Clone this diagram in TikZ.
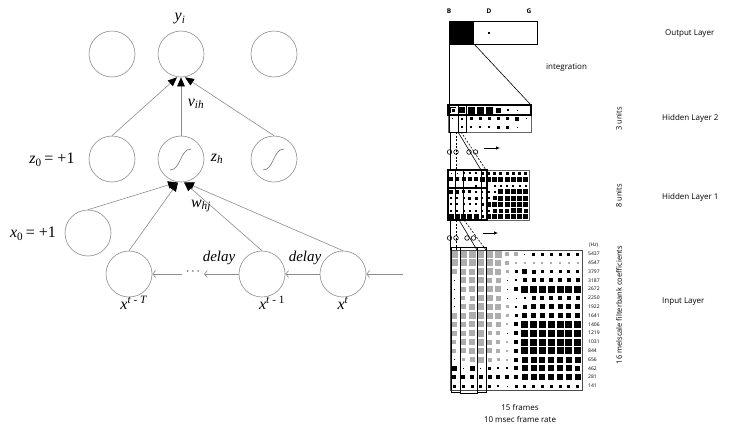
\documentclass[tikz,border=0pt]{standalone}
\usepackage{fontspec}
\setmainfont{Liberation Serif}
\newfontfamily\lblfont{Open Sans}
\usetikzlibrary{arrows.meta}
\tikzset{
  neuron/.style={circle,draw=black!45,line width=0.6pt,minimum size=46pt,inner sep=0pt},
  wire/.style={draw=black!45,line width=0.6pt},
  conv/.style={wire,-{Triangle[length=9pt,width=7.5pt,color=black]}},
  delayarr/.style={wire,-{Straight Barb[length=3pt,width=7pt]}},
  mathlbl/.style={font=\fontsize{16}{18}\selectfont,inner sep=0pt},
  rlabel/.style={font=\lblfont\fontsize{8}{9}\selectfont,inner sep=0pt,anchor=west},
  hzlabel/.style={font=\lblfont\fontsize{5}{6}\selectfont,inner sep=0pt,anchor=west},
  units/.style={font=\lblfont\fontsize{7.5}{9}\selectfont,inner sep=0pt,rotate=90},
  winbox/.style={draw=black,line width=0.9pt},
  conn/.style={draw=black,line width=0.6pt},
  connd/.style={draw=black,line width=0.6pt,dash pattern=on 2pt off 1.5pt},
}
\newcommand{\sigmoidin}[1]{\draw[black!55,line width=0.6pt] ([shift={(-11pt,-11pt)}]#1.center) .. controls ([shift={(0pt,-11pt)}]#1.center) and ([shift={(-1pt,10pt)}]#1.center) .. ([shift={(10pt,10pt)}]#1.center);}
\newcommand{\cellsq}[3]{%
  \ifnum#3>10
    \pgfmathsetmacro{\hs}{(#3-10)/2}%
    \fill[black!32] (#1-\hs,#2-\hs) rectangle (#1+\hs,#2+\hs);%
  \else\ifnum#3>0
    \pgfmathsetmacro{\hs}{#3/2}%
    \fill[black] (#1-\hs,#2-\hs) rectangle (#1+\hs,#2+\hs);%
  \fi\fi}
\begin{document}
\begin{tikzpicture}[x=1pt,y=-1pt]
\useasboundingbox (0,0) rectangle (735,429);
\fill[white] (0,0) rectangle (735,429);

% ---------------- left network ----------------
\node[neuron] (o1) at (112,54) {};
\node[neuron] (o2) at (181,54) {};
\node[neuron] (o3) at (274,54) {};
\node[neuron] (h0) at (112,159) {};
\node[neuron] (h1) at (181,159) {};
\node[neuron] (h2) at (274,159) {};
\node[neuron] (x0) at (88,233) {};
\node[neuron] (xT) at (129,274) {};
\node[neuron] (x1) at (262,274) {};
\node[neuron] (xt) at (343,274) {};
\sigmoidin{h1}
\sigmoidin{h2}

\draw[conv] (h0.north) -- ([xshift=-4pt]o2.south);
\draw[conv] (h2.north) -- ([xshift=4pt]o2.south);
\draw[conv] (h1.north) -- (o2.south);

\draw[conv] (x0.north) -- ([xshift=-4pt]h1.south);
\draw[conv] (xT.north) -- ([xshift=-3pt]h1.south);
\draw[conv] (xt.north) -- ([xshift=4pt]h1.south);
\draw[conv] (x1.north) -- ([xshift=3pt]h1.south);

\coordinate (inp) at (403,274);
\coordinate (dotsR) at (204,274);
\coordinate (dotsL) at (182,274);
\draw[delayarr] (inp) -- (xt.east);
\draw[delayarr] (xt.west) -- (x1.east);
\draw[delayarr] (x1.west) -- (dotsR);
\draw[delayarr] (dotsL) -- (xT.east);
\node[font=\fontsize{12}{12}\selectfont,inner sep=0pt] (dots) at (193,272) {$\cdots$};

\node[mathlbl] (lyi) at (180,19) {\textit{y}\textsubscript{\textit{i}}};
\node[mathlbl] (lvih) at (196,104) {\textit{v}\textsubscript{\textit{ih}}};
\node[mathlbl] (lzh) at (217,159) {\textit{z}\textsubscript{\textit{h}}};
\node[mathlbl] (lz0) at (52,160) {\textit{z}\textsubscript{0}\,=\ +1};
\node[mathlbl] (lx0) at (33,234) {\textit{x}\textsubscript{0}\,=\ +1};
\node[mathlbl] (lwhj) at (201,206) {\textit{w}\textsubscript{\textit{hj}}};
\node[mathlbl,font=\fontsize{15}{17}\selectfont] (ld1) at (219,258) {\textit{delay}};
\node[mathlbl,font=\fontsize{15}{17}\selectfont] (ld2) at (305,258) {\textit{delay}};
\node[mathlbl] (lxT) at (134,303) {\textit{x}\textsuperscript{\textit{t} - \textit{T}}};
\node[mathlbl] (lx1) at (272,303) {\textit{x}\textsuperscript{\textit{t} - 1}};
\node[mathlbl] (lxt) at (343,303) {\textit{x}\textsuperscript{\textit{t}}};

% ---------------- right: TDNN figure ----------------
\node[font=\lblfont\bfseries\fontsize{6.5}{7}\selectfont,inner sep=0pt] (lB) at (449,11) {B};
\node[font=\lblfont\bfseries\fontsize{6.5}{7}\selectfont,inner sep=0pt] (lD) at (489,11) {D};
\node[font=\lblfont\bfseries\fontsize{6.5}{7}\selectfont,inner sep=0pt] (lG) at (529,11) {G};

% output layer
\draw[line width=0.9pt] (449,21) rectangle (537,44);
\fill[black] (449,21) rectangle (474,44);
\fill[black] (488.4,32.4) rectangle (489.6,33.6);
\draw[conn] (449,44) -- (449,105);
\draw[conn] (474,44) -- (531,105);

% hidden layer 2 (9 x 3)
\draw[black!60,line width=0.7pt] (448,105) rectangle (531,132);
\foreach \row [count=\r] in {{6,6,7,7,7,5,2,1,0},{1,2,3,3,3,3,3,4,1},{0,2,2,2,2,3,3,1,0}}{
  \foreach \v [count=\c] in \row {
    \pgfmathsetmacro{\cx}{448+9.22*(\c-0.5)}
    \pgfmathsetmacro{\cy}{110+8.6*(\r-1)}
    \cellsq{\cx}{\cy}{\v}
  }
}
\draw[line width=1.2pt] (448,105) rectangle (531,115);
\draw[white,line width=0.8pt] (451.6,108.6) rectangle (455.6,112.6);
\draw[winbox] (449,105) rectangle (458,132);
\draw[winbox] (458,105) rectangle (466,132);

% connections hidden2 -> hidden1
\draw[conn] (450,132) -- (450,170);
\draw[connd] (456,132) -- (456,170);
\draw[conn] (458,132) -- (481,170);
\draw[connd] (461,132) -- (486,170);
\foreach \lx in {449.5,456,469,475.5}{\draw[black,line width=0.6pt] (\lx,152) circle (2.3);}
\draw[-{Latex[length=4pt,width=3.5pt]},line width=0.7pt] (484,148) -- (500,148);

% hidden layer 1 (13 x 8)
\draw[black!60,line width=0.7pt] (448,170) rectangle (529,220);
\foreach \row [count=\r] in {
 {1,1,2,2,2,3,3,3,3,3,3,3,3},
 {4,4,4,4,4,5,5,5,5,5,5,5,5},
 {0,0,0,0,2,0,0,2,2,2,2,2,2},
 {4,4,3,3,2,2,2,2,5,5,5,5,5},
 {2,2,2,3,3,2,2,4,5,5,5,5,5},
 {2,2,2,2,2,3,5,5,5,5,5,5,5},
 {2,2,2,2,2,2,2,4,4,4,5,5,4},
 {5,5,5,5,5,3,5,5,5,5,5,5,5}}{
  \foreach \v [count=\c] in \row {
    \pgfmathsetmacro{\cx}{448+6.23*(\c-0.5)}
    \pgfmathsetmacro{\cy}{170+6.25*(\r-0.5)}
    \cellsq{\cx}{\cy}{\v}
  }
}
\draw[line width=1.3pt] (448,170) rectangle (487,220);
\draw[line width=0.7pt] (455,170) -- (455,220);
\draw[line width=0.7pt] (463,170) -- (463,220);
\draw[line width=0.7pt] (481,170) -- (481,220);
\draw[line width=1.2pt] (448,188) -- (487,188);

% connections hidden1 -> input
\draw[conn] (450,220) -- (450,250);
\draw[connd] (456,220) -- (456,250);
\draw[conn] (459,220) -- (477,250);
\draw[connd] (464,220) -- (486,250);
\foreach \lx in {449.5,456,467,473.5}{\draw[black,line width=0.6pt] (\lx,238) circle (2.3);}
\draw[-{Latex[length=4pt,width=3.5pt]},line width=0.7pt] (483,233) -- (498,233);

% input layer (15 x 16)
\draw[black!70,line width=0.6pt] (450,250) rectangle (582,390);
\foreach \row [count=\r] in {
 {17,17,17,17,17,17,14,14,1,3,3,3,3,3,3},
 {17,17,17,17,17,16,14,12,12,12,12,12,12,12,12},
 {15,16,16,17,17,16,13,3,5,4,3,3,3,3,3},
 {1,16,16,16,15,15,1,2,4,4,4,4,4,4,4},
 {1,15,16,16,16,16,1,4,7,7,7,7,7,7,7},
 {1,14,15,16,16,15,1,1,2,4,4,4,4,4,4},
 {1,15,16,17,16,16,13,2,4,5,5,5,5,5,5},
 {16,16,17,17,16,16,13,3,5,5,5,5,5,5,5},
 {15,15,16,16,15,15,12,4,7,7,7,7,7,7,7},
 {15,15,16,17,14,14,1,4,7,7,7,7,7,7,7},
 {14,16,16,17,15,14,12,4,7,7,7,7,7,7,7},
 {14,15,16,16,15,14,12,4,7,7,7,7,7,7,7},
 {1,13,15,16,14,13,12,4,6,6,6,6,6,6,6},
 {5,1,5,1,3,2,2,4,6,6,6,6,6,6,5},
 {4,4,4,4,4,4,4,4,6,6,6,6,6,6,6},
 {3,3,3,3,3,2,1,3,3,3,3,3,3,3,3}}{
  \foreach \v [count=\c] in \row {
    \pgfmathsetmacro{\cx}{450+8.8*(\c-0.5)}
    \pgfmathsetmacro{\cy}{254+8.8*(\r-1)}
    \cellsq{\cx}{\cy}{\v}
  }
}
\draw[winbox] (451,247) rectangle (460,392);
\draw[winbox] (460,247) rectangle (477,393);
\draw[winbox] (477,247) rectangle (486,392);

% frequency labels
\node[hzlabel] (lhz) at (589,245) {(Hz)};
\foreach \f [count=\i] in {5437,4547,3797,3187,2672,2250,1922,1641,1406,1219,1031,844,656,462,281,141}{
  \node[hzlabel] (f\i) at (588,254+8.8*\i-8.8) {\f};
}

% side labels
\node[units] (u3) at (619,119) {3 units};
\node[units] (u8) at (619,196) {8 units};
\node[units] (u16) at (619,305) {16 melscale filterbank coefficients};
\node[rlabel] (lout) at (665,34) {Output Layer};
\node[rlabel] (lint) at (546,68) {integration};
\node[rlabel] (lh2) at (662,118) {Hidden Layer 2};
\node[rlabel] (lh1) at (662,197) {Hidden Layer 1};
\node[rlabel] (lin) at (662,302) {Input Layer};
\node[font=\lblfont\fontsize{8}{9}\selectfont,inner sep=0pt] (l15) at (520,407) {15 frames};
\node[font=\lblfont\fontsize{8}{9}\selectfont,inner sep=0pt] (l10) at (520,419) {10 msec frame rate};
\end{tikzpicture}
\end{document}
